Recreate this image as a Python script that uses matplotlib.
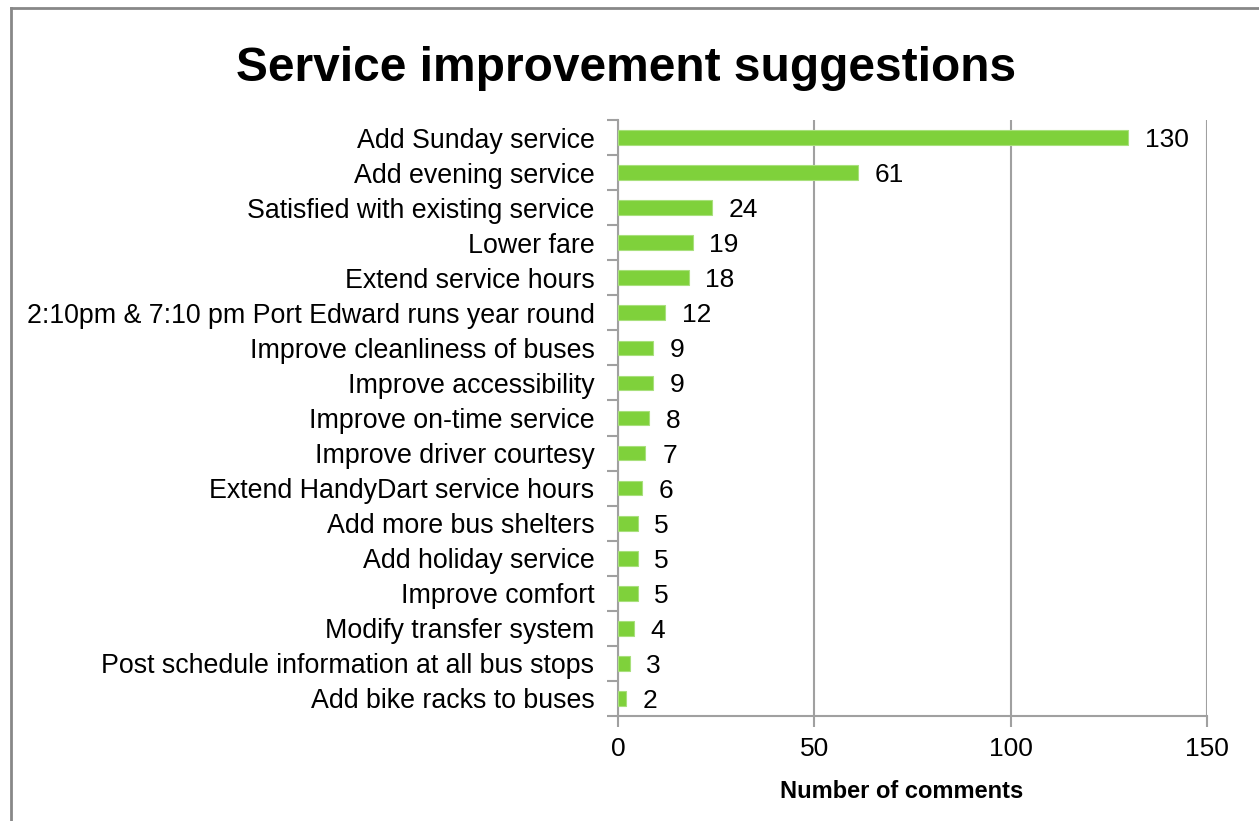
import matplotlib.pyplot as plt
from matplotlib.lines import Line2D

plt.rcParams['font.family'] = ['Liberation Sans', 'DejaVu Sans']

# survey responses, listed top to bottom
suggestions = [
    "Add Sunday service",
    "Add evening service",
    "Satisfied with existing service",
    "Lower fare",
    "Extend service hours",
    "2:10pm & 7:10 pm Port Edward runs year round",
    "Improve cleanliness of buses",
    "Improve accessibility",
    "Improve on-time service",
    "Improve driver courtesy",
    "Extend HandyDart service hours",
    "Add more bus shelters",
    "Add holiday service",
    "Improve comfort",
    "Modify transfer system",
    "Post schedule information at all bus stops",
    "Add bike racks to buses",
]
comments = [130, 61, 24, 19, 18, 12, 9, 9, 8, 7, 6, 5, 5, 5, 4, 3, 2]
x_ticks = [0, 50, 100, 150]

bar_color = "#7fd13b"
grid_color = "#a0a0a0"

fig = plt.figure(figsize=(12.59, 8.21), dpi=100)
ax = fig.add_axes([618 / 1259, 1 - 716 / 821, 589 / 1259, 596 / 821])

pos = list(range(len(suggestions)))[::-1]
ax.barh(pos, comments, height=0.42, color=bar_color, edgecolor="#a8e07c",
        linewidth=0.8, zorder=3)

for p, v in zip(pos, comments):
    ax.annotate(str(v), (v, p), xytext=(12, 0), textcoords="offset points",
                va="center_baseline", ha="left", fontsize=19)

ax.set_xlim(0, 150)
ax.set_ylim(-0.5, len(suggestions) - 0.5)
ax.set_xticks(x_ticks)
ax.set_yticks([i - 0.5 for i in range(len(suggestions) + 1)], minor=False)
ax.set_yticklabels([])
ax.set_yticks(pos, minor=True)
ax.set_yticklabels(suggestions, minor=True, fontsize=19.3)
ax.tick_params(axis="y", which="minor", length=0, pad=17)
ax.tick_params(axis="y", which="major", length=8, width=1.5, color=grid_color)
ax.tick_params(axis="x", length=8, width=1.5, color=grid_color, labelsize=19, pad=7)

ax.xaxis.grid(True, color=grid_color, linewidth=1.5, zorder=0)
for side in ["top", "right"]:
    ax.spines[side].set_visible(False)
for side in ["left", "bottom"]:
    ax.spines[side].set_color(grid_color)
    ax.spines[side].set_linewidth(1.5)

ax.set_xlabel("Number of comments", fontsize=17, fontweight="bold")
ax.xaxis.set_label_coords((902 - 618) / 589, -(791 - 716) / 596)
ax.xaxis.label.set_va("center")

fig.text(0.497, 1 - 68 / 821, "Service improvement suggestions", ha="center", va="center",
         fontsize=34.5, fontweight="bold")

# chart area border (only left and top edges fall inside the image)
fig.add_artist(Line2D([11 / 1259, 11 / 1259], [0, 1 - 8 / 821], color="#888888", linewidth=2))
fig.add_artist(Line2D([11 / 1259, 1], [1 - 8 / 821, 1 - 8 / 821], color="#888888", linewidth=2))

fig.savefig("out.png", dpi=100)
